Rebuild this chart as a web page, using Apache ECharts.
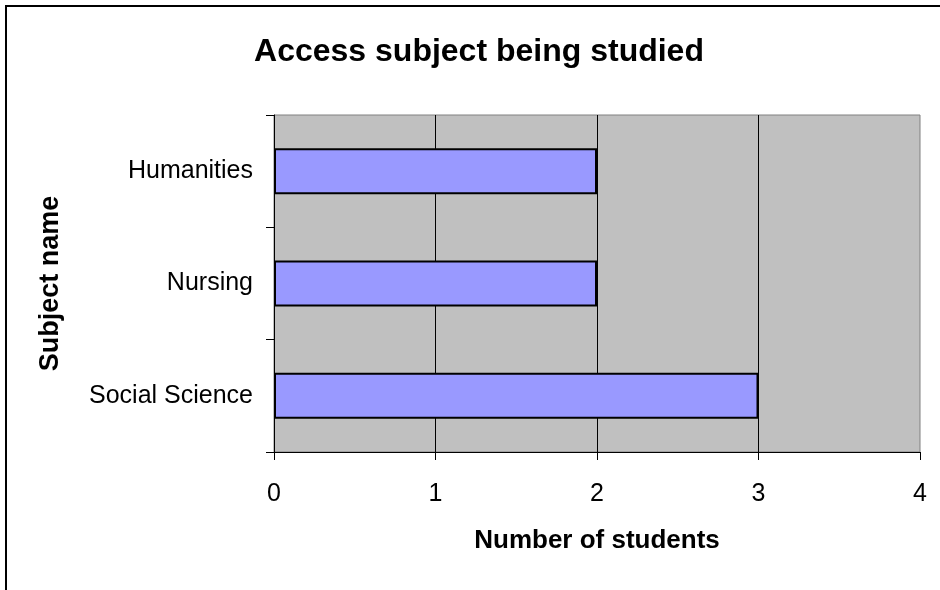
<!DOCTYPE html>
<html>
<head>
<meta charset="utf-8">
<script src="https://cdn.jsdelivr.net/npm/echarts@6/dist/echarts.min.js"></script>
<style>
  html, body { margin: 0; padding: 0; background: #fff; }
  #chart { width: 940px; height: 590px; }
</style>
</head>
<body>
<div id="chart"></div>
<script>
// Subjects, listed bottom to top along the category axis
const subjects = ['Social Science', 'Nursing', 'Humanities'];
const studentCounts = [3, 2, 2];
const xTicks = [0, 1, 2, 3, 4];

const font = 'Arial, "Liberation Sans", sans-serif';
const chart = echarts.init(document.getElementById('chart'), null, { renderer: 'canvas' });

chart.setOption({
  backgroundColor: '#ffffff',
  animation: false,
  title: {
    text: 'Access subject being studied',
    left: 474,
    top: 31,
    textAlign: 'center',
    textStyle: { fontFamily: font, fontSize: 32, fontWeight: 'bold', color: '#000' }
  },
  graphic: [{
    type: 'rect',
    shape: { x: 6, y: 6, width: 960, height: 620 },
    style: { fill: 'none', stroke: '#000', lineWidth: 2 },
    silent: true
  }],
  grid: {
    left: 274, top: 115, width: 646, height: 337,
    show: true,
    backgroundColor: '#C0C0C0',
    borderColor: '#808080',
    borderWidth: 1
  },
  xAxis: {
    type: 'value',
    min: xTicks[0],
    max: xTicks[xTicks.length - 1],
    interval: 1,
    name: 'Number of students',
    nameLocation: 'middle',
    nameGap: 76,
    nameTextStyle: { fontFamily: font, fontSize: 26, fontWeight: 'bold', color: '#000' },
    axisLine: { show: true, lineStyle: { color: '#000', width: 1 } },
    axisTick: { show: true, length: 8, inside: false, lineStyle: { color: '#000' } },
    axisLabel: { margin: 30, fontFamily: font, fontSize: 25, color: '#000' },
    splitLine: { show: true, showMinLine: false, showMaxLine: false, lineStyle: { color: '#000', width: 1 } }
  },
  yAxis: {
    type: 'category',
    data: subjects,
    name: 'Subject name',
    nameLocation: 'middle',
    nameGap: 210,
    nameRotate: 90,
    nameTextStyle: { fontFamily: font, fontSize: 27, fontWeight: 'bold', color: '#000' },
    axisLine: { show: true, lineStyle: { color: '#000', width: 1 } },
    axisTick: { show: true, length: 8, alignWithLabel: false, lineStyle: { color: '#000' } },
    axisLabel: { margin: 21, fontFamily: font, fontSize: 25, color: '#000' },
    splitLine: { show: false }
  },
  series: [{
    type: 'bar',
    data: studentCounts,
    barWidth: 46,
    itemStyle: { color: '#9999FF', borderColor: '#000', borderWidth: 2 }
  }]
});
</script>
</body>
</html>
